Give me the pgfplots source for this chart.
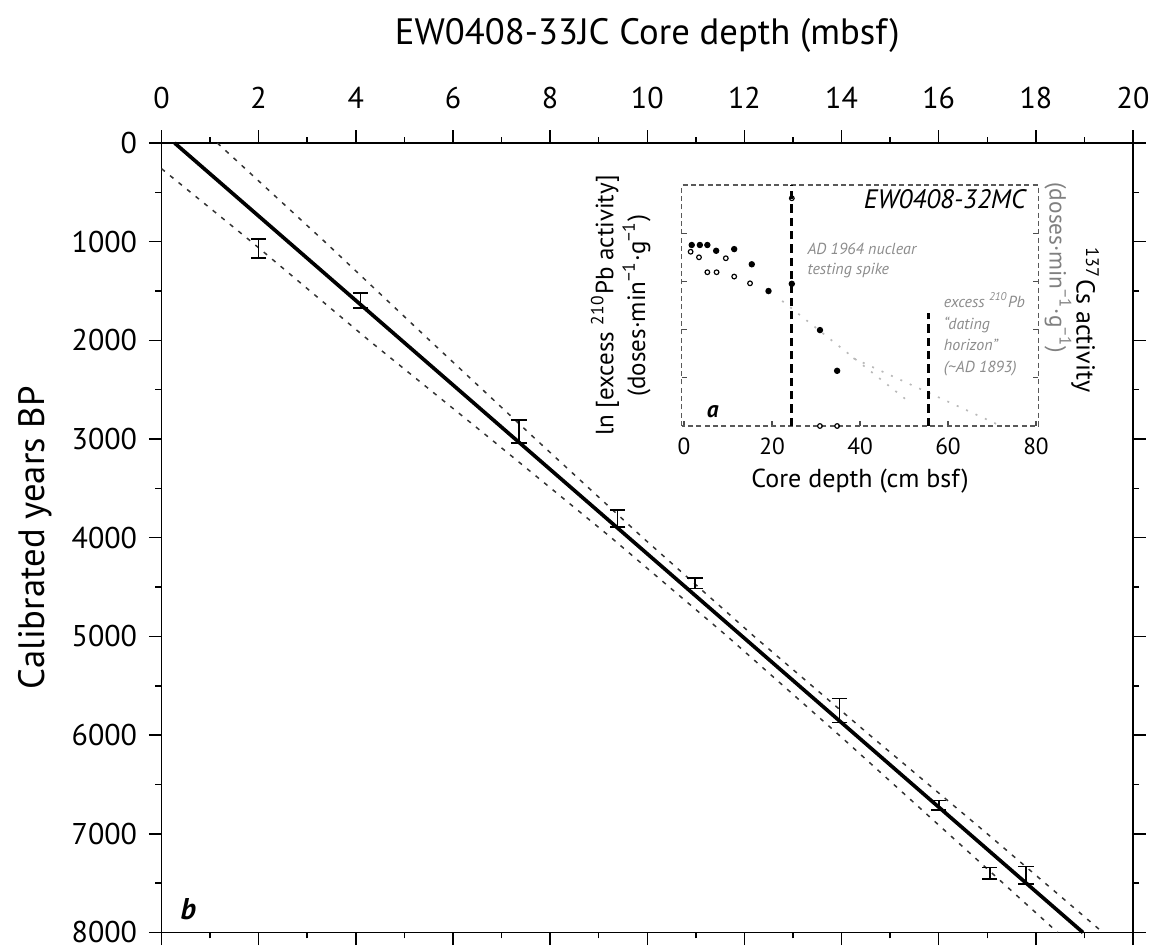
\documentclass[border=0pt]{standalone}
\usepackage{fontspec}
\setmainfont{PT Sans}
\usepackage{pgfplots}
\pgfplotsset{compat=1.18}
\begin{document}
\begin{tikzpicture}
\begin{axis}[name=main, scale only axis, width=291.45pt, height=236.85pt,
  xmin=0, xmax=20, ymin=0, ymax=8000, y dir=reverse,
  xtick={0,2,...,20}, minor xtick={1,3,...,19},
  ytick={0,1000,...,8000}, minor ytick={500,1500,...,7500},
  xticklabel pos=upper,
  xticklabel style={yshift=3pt},
  tick align=outside, major tick length=3.8pt, minor tick length=1.8pt,
  tick style={black, line width=0.45pt},
  axis line style={line width=0.4pt},
  ticklabel style={font=\fontsize{9}{10}\selectfont},
  /pgf/number format/assume math mode=true,
  /pgf/number format/1000 sep={},
  clip=false]
\addplot[black, line width=1.1pt] coordinates {(0.27,0) (18.97,8000)};
\addplot[black!80, line width=0.45pt, dash pattern=on 1.3pt off 2pt] coordinates {
 (1.15,0) (3.36,1000) (5.52,2000) (7.70,3000) (9.91,4000) (12.2,5000) (14.58,6000) (17.0,7000) (19.38,8000)};
\addplot[black!80, line width=0.45pt, dash pattern=on 1.3pt off 2pt] coordinates {
 (0,260) (1.85,1000) (4.27,2000) (6.78,3000) (9.26,4000) (11.65,5000) (13.95,6000) (16.2,7000) (18.45,8000)};
\addplot[draw=none, mark=none, error bars/.cd, y dir=both, y explicit,
  error bar style={draw=black, solid, line width=0.5pt},
  error mark options={draw=black, solid, rotate=90, mark size=2.3pt, line width=0.5pt}]
 coordinates {
 (2.0,1070) +- (0,96)
 (4.1,1597) +- (0,76)
 (7.36,2926) +- (0,117)
 (9.39,3808) +- (0,86)
 (10.98,4462) +- (0,51)
 (13.96,5750) +- (0,122)
 (16.0,6710) +- (0,47)
 (17.05,7400) +- (0,58)
 (17.8,7420) +- (0,88)
 };
\node[font=\fontsize{11}{12}\selectfont] at (axis cs:10,-1094) {EW0408-33JC Core depth (mbsf)};
\node[rotate=90, font=\fontsize{11}{12}\selectfont] at (axis cs:-2.6,4000) {Calibrated years BP};
\node[anchor=base west, font=\bfseries\itshape\fontsize{9}{9}\selectfont] at (axis cs:0.15,7873) {b};
\end{axis}
\begin{axis}[name=inset, at={(main.north west)}, anchor=south west, xshift=156.1pt, yshift=-84.9pt,
  scale only axis, width=106.9pt, height=72.3pt,
  xmin=-0.5, xmax=80.5, ymin=0, ymax=10,
  xtick={0,20,...,80}, ytick={2,4,6,8}, yticklabels={},
  xtick pos=left, ytick pos=both,
  tick align=inside, major tick length=1.6pt,
  tick style={black!70, line width=0.4pt},
  axis line style={black!65, line width=0.35pt, dash pattern=on 1.5pt off 1pt},
  ticklabel style={font=\fontsize{7}{7}\selectfont},
  /pgf/number format/assume math mode=true,
  xlabel={Core depth (cm bsf)},
  xlabel style={font=\fontsize{7.8}{8}\selectfont, yshift=2.5pt},
  ylabel={ln [excess \textsuperscript{210}Pb activity]\\(doses·min\textsuperscript{−1}·g\textsuperscript{−1})},
  ylabel style={font=\fontsize{7.5}{8.2}\selectfont, align=center, yshift=-1pt},
  clip=false]
\addplot[gray!55, line width=0.5pt, dash pattern=on 0.6pt off 2.5pt] coordinates {(22.3,5.19) (50.6,1.08)};
\addplot[gray!55, line width=0.5pt, dash pattern=on 0.6pt off 2.5pt] coordinates {(38.5,2.81) (71.1,0.08)};
\addplot[black, line width=0.8pt, dash pattern=on 2.5pt off 1.5pt] coordinates {(24.5,0) (24.5,10)};
\addplot[black, line width=0.8pt, dash pattern=on 2.5pt off 1.5pt] coordinates {(55.5,0) (55.5,4.7)};
\addplot[only marks, mark=*, mark size=0.75pt, black] coordinates {
 (1.75,7.51) (3.6,7.51) (5.3,7.51) (7.3,7.27) (11.4,7.34) (15.4,6.71) (19.2,5.60) (24.5,5.9) (30.9,3.98) (34.8,2.29)};
\addplot[only marks, mark=o, mark size=0.7pt, black, line width=0.35pt] coordinates {
 (1.5,7.23) (3.4,7.0) (5.3,6.38) (7.4,6.38) (9.5,6.96) (11.4,6.2) (15.0,5.92) (24.5,9.45) (30.9,0) (34.8,0)};
\node[anchor=east, font=\itshape\fontsize{8}{8}\selectfont] at (axis cs:80.3,9.4) {EW0408-32MC};
\node[anchor=west, align=left, text=black!45, font=\itshape\fontsize{4.8}{6}\selectfont] at (axis cs:25.4,6.86) {AD 1964 nuclear\\testing spike};
\node[anchor=west, align=left, text=black!45, font=\itshape\fontsize{4.8}{6.5}\selectfont] at (axis cs:56.4,3.8) {excess \textsuperscript{210}Pb\\“dating\\horizon”\\(\textasciitilde AD 1893)};
\node[anchor=base west, font=\bfseries\itshape\fontsize{7}{7}\selectfont] at (axis cs:2.5,0.35) {a};
\node[rotate=-90, text=black!50, font=\fontsize{7}{7}\selectfont] at (axis cs:85.0,6.56) {(doses·min\textsuperscript{−1}·g\textsuperscript{−1})};
\node[rotate=-90, font=\fontsize{7.8}{8}\selectfont] at (axis cs:91.2,4.4) {\textsuperscript{137}Cs activity};
\end{axis}
\pgfresetboundingbox
\path[use as bounding box] ([xshift=-48.45pt,yshift=-4.35pt]main.south west) rectangle ([xshift=7.8pt,yshift=42.9pt]main.north east);
\end{tikzpicture}
\end{document}
